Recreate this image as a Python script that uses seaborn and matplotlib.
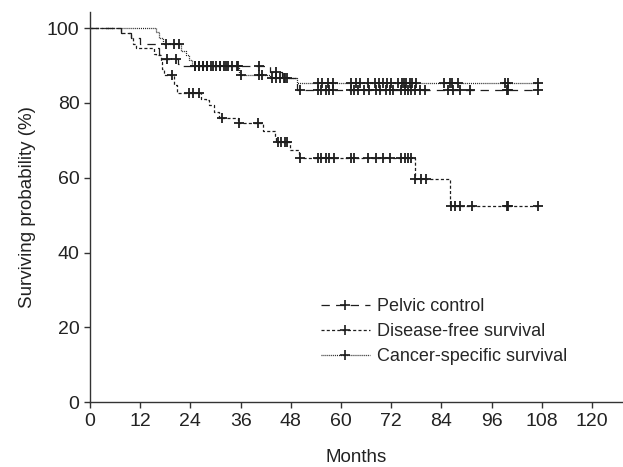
import numpy as np
import pandas as pd
import matplotlib
matplotlib.use('Agg')
import matplotlib.pyplot as plt
from matplotlib.lines import Line2D
import seaborn as sns

# Kaplan-Meier step values (months, %)
pc_times = [0, 7.5, 9.8, 12.0, 16.0, 16.5, 17.0, 21.0, 22.0, 43.0, 46.0, 49.5]
pc_surv = [100, 98.6, 97.3, 95.9, 94.6, 93.2, 91.8, 90.5, 89.8, 88.2, 86.6, 83.6]
pc_cens = [18.5, 20.5, 25, 26, 27, 28, 29.5, 31, 32.5, 34, 35.3, 40.5, 44.5, 46.4,
           50.1, 54.4, 55.3, 56.5, 57.2, 58.0, 62.4, 63.2, 64.0, 65.6, 66.8, 68.4,
           69.2, 70.8, 71.6, 72.4, 74.4, 75.2, 76.0, 76.8, 77.6, 78.8, 80.0,
           85.6, 86.8, 88.4, 90.8, 99.6, 100.0, 107.1]

dfs_times = [0, 7.5, 9.8, 10.2, 11.0, 15.3, 15.7, 16.9, 17.3, 17.7, 20.1, 20.9,
             26.5, 27.7, 28.5, 29.7, 30.9, 35.3, 41.3, 44.1, 44.5, 47.7, 50.0,
             77.6, 86.0]
dfs_surv = [100, 98.6, 97.3, 95.9, 94.6, 93.2, 92.8, 91.0, 89.2, 87.4, 84.8, 82.7,
            81.2, 80.8, 79.4, 77.6, 76.1, 74.7, 72.5, 70.9, 69.6, 67.4, 65.4,
            59.8, 52.5]
dfs_cens = [19.7, 23.7, 24.5, 26.1, 31.5, 35.6, 40.1, 44.9, 45.7, 46.5, 47.2,
            50.3, 54.4, 55.3, 56.5, 57.2, 58.4, 62.4, 63.2, 66.4, 68.4, 70.0,
            71.6, 74.4, 75.2, 76.0, 76.8, 77.8, 79.2, 80.4, 86.2, 87.2, 88.4,
            91.2, 99.6, 100.0, 107.1]

css_times = [0, 15.7, 16.5, 17.5, 21.7, 22.9, 23.7, 24.3, 35.5, 43.0, 49.5]
css_surv = [100, 99.0, 97.4, 95.9, 93.8, 92.8, 91.4, 89.8, 87.4, 86.6, 85.4]
css_cens = [18.1, 20.1, 21.3, 25, 26, 27, 28, 29, 30, 31, 32, 33, 35.2, 36,
            40.5, 41, 43.6, 44.5, 45.5, 46.5, 47.2, 54.5, 55.5, 57, 58, 62.5,
            63.5, 64.5, 66.5, 68, 69, 70, 71, 72, 73.5, 74.5, 75, 75.5, 76.5,
            77, 78, 84.5, 86, 86.5, 88, 99.3, 99.8, 107.1]

labels = ['Pelvic control', 'Disease-free survival', 'Cancer-specific survival']
styles = [(0, (6, 4.5)), (0, (2.2, 1.6)), (0, (0.7, 0.7))]
ink = '#1e1e1e'

sns.set_style('ticks')
plt.rcParams['font.family'] = ['Liberation Sans', 'DejaVu Sans']
plt.rcParams['lines.scale_dashes'] = False

fig = plt.figure(figsize=(6.23, 4.67), dpi=100)
ax = fig.add_axes([0.1445, 0.139, 0.8555, 0.835])

curves = [(pc_times, pc_surv, pc_cens), (dfs_times, dfs_surv, dfs_cens),
          (css_times, css_surv, css_cens)]

for (t, s, c), ls in zip(curves, styles):
    t = np.array(t, dtype=float)
    s = np.array(s, dtype=float)
    c = np.array(c, dtype=float)
    last = c.max()
    step_df = pd.DataFrame({'month': np.append(t, last), 'surv': np.append(s, s[-1])})
    sns.lineplot(data=step_df, x='month', y='surv', ax=ax, drawstyle='steps-post',
                 estimator=None, sort=False, color=ink, lw=0.9, linestyle=ls)
    idx = np.searchsorted(t, c, side='right') - 1
    cens_df = pd.DataFrame({'month': c, 'surv': s[idx]})
    sns.scatterplot(data=cens_df, x='month', y='surv', ax=ax, marker='+', s=60,
                    color=ink, linewidth=1.3, zorder=3)

handles = [Line2D([], [], color=ink, lw=0.9, linestyle=ls, marker='+',
                  markersize=7.5, markeredgewidth=1.2) for ls in styles]
ax.legend(handles, labels, loc='upper left', bbox_to_anchor=(0.42, 0.285),
          frameon=False, fontsize=13, handlelength=2.7, handletextpad=0.4,
          labelspacing=0.45, numpoints=1, borderaxespad=0)

ax.set_xlim(0, 127.4)
ax.set_ylim(0, 104.3)
ax.set_xticks(np.arange(0, 121, 12))
ax.set_yticks(np.arange(0, 101, 20))
ax.tick_params(labelsize=14, length=4, width=1, colors='#333333', labelcolor='#222222')
for sp in ['top', 'right']:
    ax.spines[sp].set_visible(False)
for sp in ['left', 'bottom']:
    ax.spines[sp].set_color('#333333')
    ax.spines[sp].set_linewidth(1)
ax.set_xlabel('Months', fontsize=13.5, color='#222222', labelpad=14)
ax.set_ylabel('Surviving probability (%)', fontsize=13.5, color='#222222', labelpad=8)

fig.savefig('out.png', dpi=100)
